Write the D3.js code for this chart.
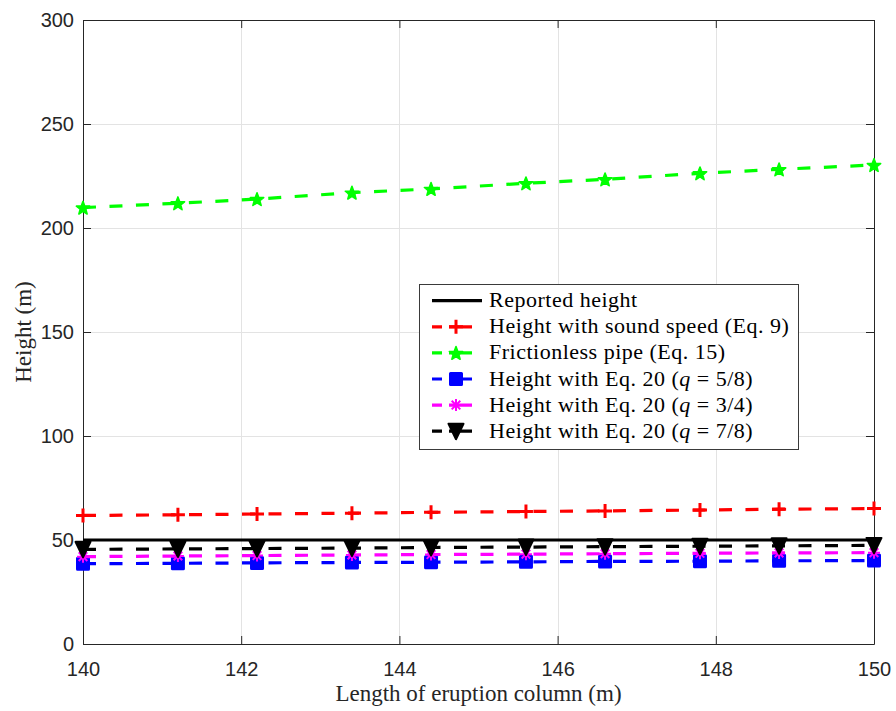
<!DOCTYPE html>
<html>
<head>
<meta charset="utf-8">
<script src="https://cdn.jsdelivr.net/npm/d3@7"></script>
<style>
  body { margin: 0; background: #fff; }
  svg { display: block; }
</style>
</head>
<body>
<svg id="chart" width="896" height="711"></svg>
<script>
// Eruption column length (m) at which each height estimate is evaluated
const lengths = [140, 141.2, 142.2, 143.4, 144.4, 145.6, 146.6, 147.8, 148.8, 150];

// Height estimates (m)
const reportedHeight   = [50, 50, 50, 50, 50, 50, 50, 50, 50, 50];
const soundSpeedHeight = [61.8, 62.1, 62.5, 62.9, 63.3, 63.7, 64.0, 64.4, 64.8, 65.1];
const frictionlessHeight = [209.8, 211.9, 213.9, 217.0, 218.8, 221.5, 223.4, 226.3, 228.2, 230.3];
const eq20q58Height    = [38.6, 38.8, 39.0, 39.2, 39.3, 39.5, 39.7, 39.8, 40.0, 40.1];
const eq20q34Height    = [42.0, 42.3, 42.5, 42.8, 43.0, 43.2, 43.4, 43.6, 43.8, 43.9];
const eq20q78Height    = [45.5, 45.7, 45.9, 46.1, 46.4, 46.6, 46.8, 47.0, 47.2, 47.4];

const seriesLabels = [
  "Reported height",
  "Height with sound speed (Eq. 9)",
  "Frictionless pipe (Eq. 15)",
  "Height with Eq. 20 (q = 5/8)",
  "Height with Eq. 20 (q = 3/4)",
  "Height with Eq. 20 (q = 7/8)"
];

// Axis ticks
const xTicks = [140, 142, 144, 146, 148, 150];
const yTicks = [0, 50, 100, 150, 200, 250, 300];
const xTitle = "Length of eruption column (m)";
const yTitle = "Height (m)";

// Series appearance
const seriesStyle = [
  { values: reportedHeight,     color: "#000000", dashed: false, marker: "none" },
  { values: soundSpeedHeight,   color: "#ff0000", dashed: true,  marker: "plus" },
  { values: frictionlessHeight, color: "#00ff00", dashed: true,  marker: "star" },
  { values: eq20q58Height,      color: "#0000ff", dashed: true,  marker: "square" },
  { values: eq20q34Height,      color: "#ff00ff", dashed: true,  marker: "asterisk" },
  { values: eq20q78Height,      color: "#000000", dashed: true,  marker: "triangle" }
];

const svg = d3.select("#chart");
svg.append("rect").attr("width", 896).attr("height", 711).attr("fill", "#fff");

const plot = { left: 83, right: 874, top: 20, bottom: 644 };
const x = d3.scaleLinear().domain([140, 150]).range([plot.left, plot.right]);
const y = d3.scaleLinear().domain([0, 300]).range([plot.bottom, plot.top]);

const axisColor = "#262626";
const tickFont = "'Liberation Sans', Arial, Helvetica, sans-serif";
const serifFont = "'Liberation Serif', 'Times New Roman', Times, serif";

// Grid
const grid = svg.append("g").attr("stroke", "#e3e3e3").attr("stroke-width", 1);
grid.selectAll("line.gx").data(xTicks).join("line")
  .attr("x1", d => Math.round(x(d)) + 0.5).attr("x2", d => Math.round(x(d)) + 0.5)
  .attr("y1", plot.top).attr("y2", plot.bottom);
grid.selectAll("line.gy").data(yTicks).join("line")
  .attr("y1", d => Math.round(y(d)) + 0.5).attr("y2", d => Math.round(y(d)) + 0.5)
  .attr("x1", plot.left).attr("x2", plot.right);

// Axes (ticks point inward, box on all four sides)
function styleAxis(g, showLabels) {
  g.selectAll("path").attr("stroke", axisColor).attr("stroke-width", 1);
  g.selectAll("line").attr("stroke", axisColor).attr("stroke-width", 1);
  g.selectAll("text")
    .attr("fill", axisColor)
    .style("font-family", tickFont)
    .style("font-size", "20px");
  if (!showLabels) g.selectAll("text").remove();
}

svg.append("g").attr("transform", `translate(0,${plot.bottom})`)
  .call(d3.axisBottom(x).tickValues(xTicks).tickFormat(d3.format("d"))
    .tickSizeInner(-8).tickSizeOuter(0).tickPadding(18))
  .call(g => styleAxis(g, true));
svg.append("g").attr("transform", `translate(0,${plot.top})`)
  .call(d3.axisTop(x).tickValues(xTicks).tickSizeInner(-8).tickSizeOuter(0))
  .call(g => styleAxis(g, false));
svg.append("g").attr("transform", `translate(${plot.left},0)`)
  .call(d3.axisLeft(y).tickValues(yTicks).tickFormat(d3.format("d"))
    .tickSizeInner(-8).tickSizeOuter(0).tickPadding(9))
  .call(g => styleAxis(g, true));
svg.append("g").attr("transform", `translate(${plot.right},0)`)
  .call(d3.axisRight(y).tickValues(yTicks).tickSizeInner(-8).tickSizeOuter(0))
  .call(g => styleAxis(g, false));

// Axis titles
svg.append("text")
  .attr("x", (plot.left + plot.right) / 2).attr("y", 701)
  .attr("text-anchor", "middle").attr("fill", axisColor)
  .style("font-family", serifFont).style("font-size", "23px")
  .text(xTitle);
svg.append("text")
  .attr("transform", `translate(31,${(plot.top + plot.bottom) / 2}) rotate(-90)`)
  .attr("text-anchor", "middle").attr("fill", axisColor)
  .style("font-family", serifFont).style("font-size", "23px")
  .text(yTitle);

// Marker shapes
const starPath = (() => {
  const R = 7, r = R * 0.42, pts = [];
  for (let i = 0; i < 10; i++) {
    const a = -Math.PI / 2 + i * Math.PI / 5;
    const rad = i % 2 === 0 ? R : r;
    pts.push([rad * Math.cos(a), rad * Math.sin(a) + 0.7]);
  }
  return "M" + pts.map(p => p.join(",")).join("L") + "Z";
})();

function drawMarker(g, type, color, cx, cy) {
  const m = g.append("g").attr("transform", `translate(${cx},${cy})`);
  if (type === "plus") {
    m.append("path").attr("d", "M-7,0H7M0,-7V7")
      .attr("stroke", color).attr("stroke-width", 3).attr("fill", "none");
  } else if (type === "star") {
    m.append("path").attr("d", starPath)
      .attr("fill", color).attr("stroke", color).attr("stroke-width", 1.6)
      .attr("stroke-linejoin", "round");
  } else if (type === "square") {
    m.append("rect").attr("x", -5.5).attr("y", -5.5).attr("width", 11).attr("height", 11)
      .attr("fill", color).attr("stroke", color).attr("stroke-width", 3)
      .attr("stroke-linejoin", "round");
  } else if (type === "asterisk") {
    m.append("path").attr("d", "M-6,0H6M0,-6V6M-4.3,-4.3L4.3,4.3M-4.3,4.3L4.3,-4.3")
      .attr("stroke", color).attr("stroke-width", 2).attr("fill", "none");
  } else if (type === "triangle") {
    m.append("path").attr("d", "M-7.5,-7.5L7.5,-7.5L0,8Z")
      .attr("fill", color).attr("stroke", color).attr("stroke-width", 2)
      .attr("stroke-linejoin", "round");
  }
}

// Series
const dataG = svg.append("g");
const line = d3.line().x(d => x(d[0])).y(d => y(d[1]));
seriesStyle.forEach(s => {
  const pts = lengths.map((L, i) => [L, s.values[i]]);
  const g = dataG.append("g");
  g.append("path").attr("d", line(pts))
    .attr("fill", "none").attr("stroke", s.color).attr("stroke-width", 3.2)
    .attr("stroke-dasharray", s.dashed ? "13 13.5" : null);
  if (s.marker !== "none") {
    pts.forEach(p => drawMarker(g, s.marker, s.color, x(p[0]), y(p[1])));
  }
});

// Legend
const legend = svg.append("g");
legend.append("rect")
  .attr("x", 419.5).attr("y", 284.5).attr("width", 379).attr("height", 165)
  .attr("fill", "#fff").attr("stroke", "#3a3a3a").attr("stroke-width", 1);

seriesLabels.forEach((label, i) => {
  const s = seriesStyle[i];
  const cy = 300.7 + i * 26.1;
  const row = legend.append("g");
  row.append("line")
    .attr("x1", 432).attr("x2", 482).attr("y1", cy).attr("y2", cy)
    .attr("stroke", s.color).attr("stroke-width", 3.2)
    .attr("stroke-dasharray", s.dashed ? "10 7 23 10" : null);
  if (s.marker !== "none") drawMarker(row, s.marker, s.color, 456, cy);

  const t = row.append("text")
    .attr("x", 489).attr("y", cy + 6.5)
    .attr("fill", "#000")
    .style("font-family", serifFont).style("font-size", "22px")
    .style("letter-spacing", "0.5px");
  const m = label.match(/^(.*\()q( = .*)$/);
  if (m) {
    t.append("tspan").text(m[1]);
    t.append("tspan").style("font-style", "italic").text("q");
    t.append("tspan").text(m[2]);
  } else {
    t.text(label);
  }
});
</script>
</body>
</html>
